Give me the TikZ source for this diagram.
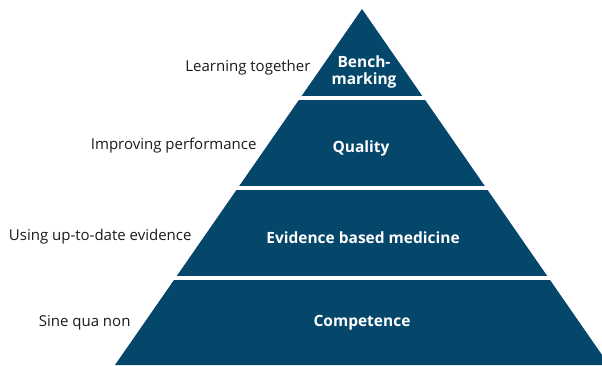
\documentclass[tikz,border=0pt]{standalone}
\usepackage{fontspec}
\setmainfont{Open Sans}
\usetikzlibrary{positioning}
\definecolor{tier}{HTML}{05466B}
\definecolor{ink}{HTML}{1A1A1A}

\begin{document}
\begin{tikzpicture}[x=1pt,y=-1pt,
    tierlabel/.style={text=white,font=\fontsize{15.5}{17}\selectfont\bfseries,align=center},
    sidelabel/.style={text=ink,font=\fontsize{15}{17}\selectfont,anchor=east}]
  \useasboundingbox (0,0) rectangle (602,365);
  \clip (0,0) rectangle (602,365);
  % pyramid and the white gaps between its tiers
  \fill[tier] (362,9) -- (609,365) -- (115,365) -- cycle;
  \draw[white,line width=4pt] (100,98) -- (602,98);
  \draw[white,line width=4pt] (100,188) -- (602,188);
  \draw[white,line width=4pt] (100,277.5) -- (602,277.5);
  % tier names
  \node[tierlabel] (bench) at (364,72) {Bench-\\marking};
  \node[tierlabel] (quality) at (361,148) {Quality};
  \node[tierlabel] (ebm) at (363,238) {Evidence based medicine};
  \node[tierlabel] (comp) at (362,323) {Competence};
  % what each tier stands for
  \node[sidelabel] (learn) at (314,68) {Learning together};
  \node[sidelabel] (improve) at (260,146) {Improving performance};
  \node[sidelabel] (uptodate) at (195,237) {Using up-to-date evidence};
  \node[sidelabel] (sine) at (134,323) {Sine qua non};
\end{tikzpicture}
\end{document}
